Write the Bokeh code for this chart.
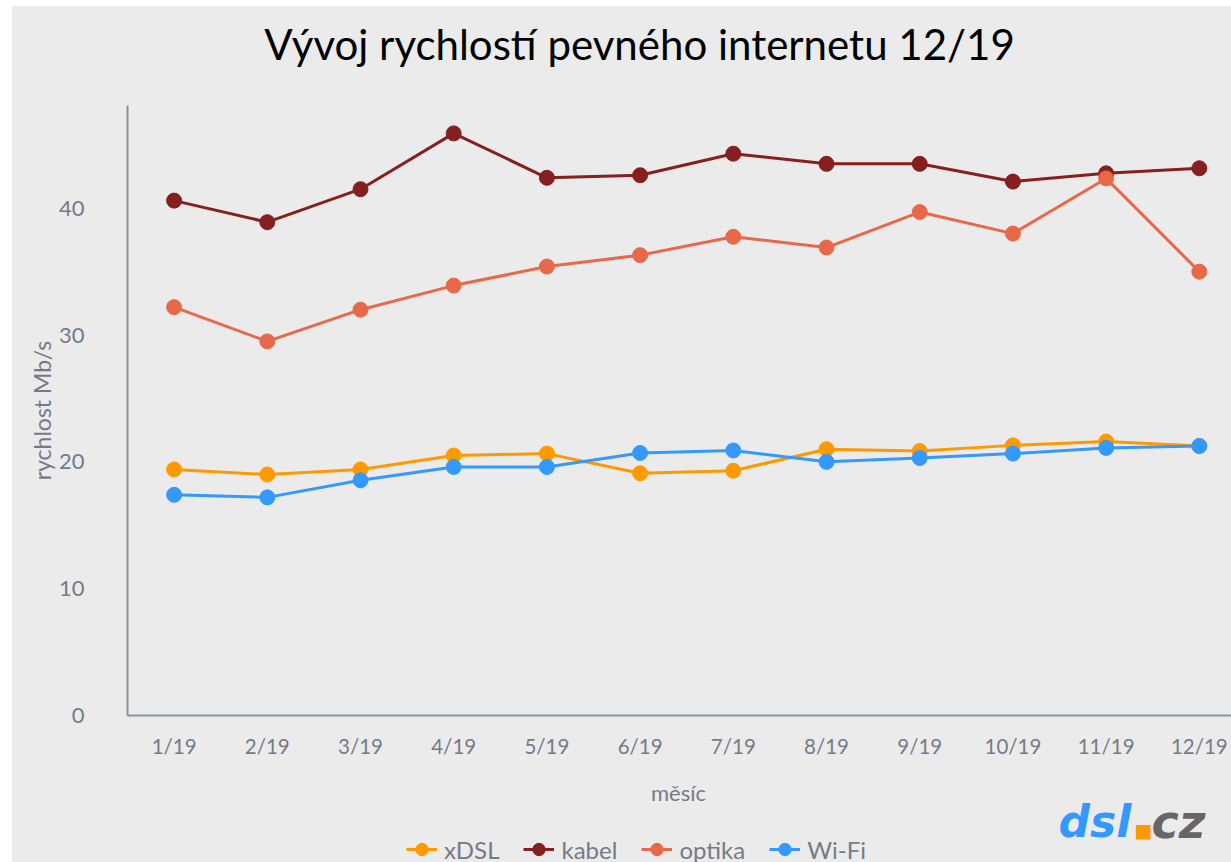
from bokeh.plotting import figure
from bokeh.layouts import column
from bokeh.models import Legend, LegendItem, FixedTicker, Label, Range1d
from bokeh.embed import file_html
from bokeh.resources import INLINE

title_text = "Vývoj rychlostí pevného internetu 12/19"
x_label = "měsíc"
y_label = "rychlost Mb/s"
months = ["1/19", "2/19", "3/19", "4/19", "5/19", "6/19",
          "7/19", "8/19", "9/19", "10/19", "11/19", "12/19"]
xdsl = [19.4, 19.0, 19.4, 20.5, 20.65, 19.1, 19.3, 21.0, 20.85, 21.3, 21.6, 21.25]
kabel = [40.6, 38.9, 41.5, 45.9, 42.4, 42.6, 44.3, 43.5, 43.5, 42.1, 42.75, 43.15]
optika = [32.2, 29.5, 32.0, 33.9, 35.4, 36.3, 37.75, 36.9, 39.7, 38.0, 42.35, 35.0]
wifi = [17.4, 17.2, 18.55, 19.6, 19.6, 20.7, 20.9, 20.0, 20.3, 20.65, 21.1, 21.25]
y_ticks = [0, 10, 20, 30, 40]

series_names = ["xDSL", "kabel", "optika", "Wi-Fi"]
series_values = [xdsl, kabel, optika, wifi]
series_colors = ["#ff9900", "#861f1f", "#e8694a", "#3399ff"]

idx = list(range(len(months)))

BG = "#ebebeb"
GRAY = "#737c86"
FONT = "Lato"
W = 1219


def strip(height):
    f = figure(width=W, height=height, output_backend="svg", toolbar_location=None,
               x_range=Range1d(-0.5, 11.345), y_range=Range1d(1000, 1001),
               x_axis_type=None, y_axis_type=None, title=None,
               background_fill_color=BG, border_fill_color=BG,
               min_border_left=115, min_border_right=0, min_border_top=0,
               min_border_bottom=0)
    f.outline_line_color = None
    f.xgrid.grid_line_color = None
    f.ygrid.grid_line_color = None
    return f


# ---------------- title strip ----------------
t = strip(89)
for vals, col in zip(series_values, series_colors):
    t.line(idx, vals, line_width=3, color=col)   # outside the strip's range
t.add_layout(Label(x=512, y=52, x_units="screen", y_units="screen", text=title_text,
                   text_font=FONT, text_font_size="42px", text_color="#000000",
                   text_align="center", text_baseline="alphabetic"))

# ---------------- main chart ----------------
p = figure(width=W, height=670, output_backend="svg", toolbar_location=None,
           x_range=Range1d(-0.5, 11.345), y_range=Range1d(0, 48.1), title=None,
           background_fill_color=BG, border_fill_color=BG,
           min_border_left=115, min_border_right=0, min_border_top=10,
           min_border_bottom=50)
p.outline_line_color = None
p.xgrid.grid_line_color = None
p.ygrid.grid_line_color = None

xa = p.xaxis[0]
xa.ticker = FixedTicker(ticks=idx)
xa.major_label_overrides = {i: m for i, m in zip(idx, months)}
ya = p.yaxis[0]
ya.ticker = FixedTicker(ticks=y_ticks)

for ax in (xa, ya):
    ax.axis_line_color = "#8c949b"
    ax.axis_line_width = 2
    ax.major_tick_line_color = None
    ax.minor_tick_line_color = None
    ax.major_label_text_font = FONT
    ax.major_label_text_color = GRAY
    ax.axis_label_text_font = FONT
    ax.axis_label_text_font_style = "normal"
    ax.axis_label_text_color = GRAY

xa.major_label_text_font_size = "20.5px"
ya.major_label_text_font_size = "22px"
ya.axis_label_text_font_size = "23px"

xa.major_label_standoff = 12
ya.axis_label = y_label
ya.major_label_standoff = 37
ya.axis_label_standoff = 0

for vals, col in zip(series_values, series_colors):
    p.line(idx, vals, line_width=3, color=col)
    p.scatter(idx, vals, size=15, color=col)

# ---------------- x label, legend strip + logo ----------------
q = strip(97)
items = []
for name, vals, col in zip(series_names, series_values, series_colors):
    ln = q.line(idx, vals, line_width=3, color=col)
    sc = q.scatter(idx, vals, size=15, color=col)
    items.append(LegendItem(label=name, renderers=[ln, sc]))

q.add_layout(Label(x=551, y=70, x_units="screen", y_units="screen", text=x_label,
                   text_font=FONT, text_font_size="22px", text_color=GRAY,
                   text_align="center", text_baseline="middle"))

legend = Legend(items=items, orientation="horizontal", location=(279, -3),
                background_fill_alpha=0, border_line_color=None,
                label_text_font=FONT, label_text_font_size="24px",
                label_text_color=GRAY, glyph_width=31, glyph_height=32,
                spacing=24, label_standoff=7, padding=0, margin=0)
q.add_layout(legend, "center")

q.add_layout(Label(x=931, y=41, x_units="screen", y_units="screen", text="dsl",
                   text_font="DejaVu Sans", text_font_style="bold italic",
                   text_font_size="44px", text_color="#3399ff",
                   text_baseline="alphabetic"))
q.add_layout(Label(x=1016, y=33, x_units="screen", y_units="screen", text="■",
                   text_font="DejaVu Sans", text_font_size="19px",
                   text_color="#ff9900", text_align="center",
                   text_baseline="middle"))
q.add_layout(Label(x=1024, y=41, x_units="screen", y_units="screen", text="cz",
                   text_font="DejaVu Sans", text_font_style="bold italic",
                   text_font_size="46px", text_color="#666666",
                   text_baseline="alphabetic"))

layout = column(t, p, q, spacing=0, margin=(6, 0, 0, 12),
                styles={"background-color": BG})
open("out.html", "w").write(file_html(layout, INLINE))
